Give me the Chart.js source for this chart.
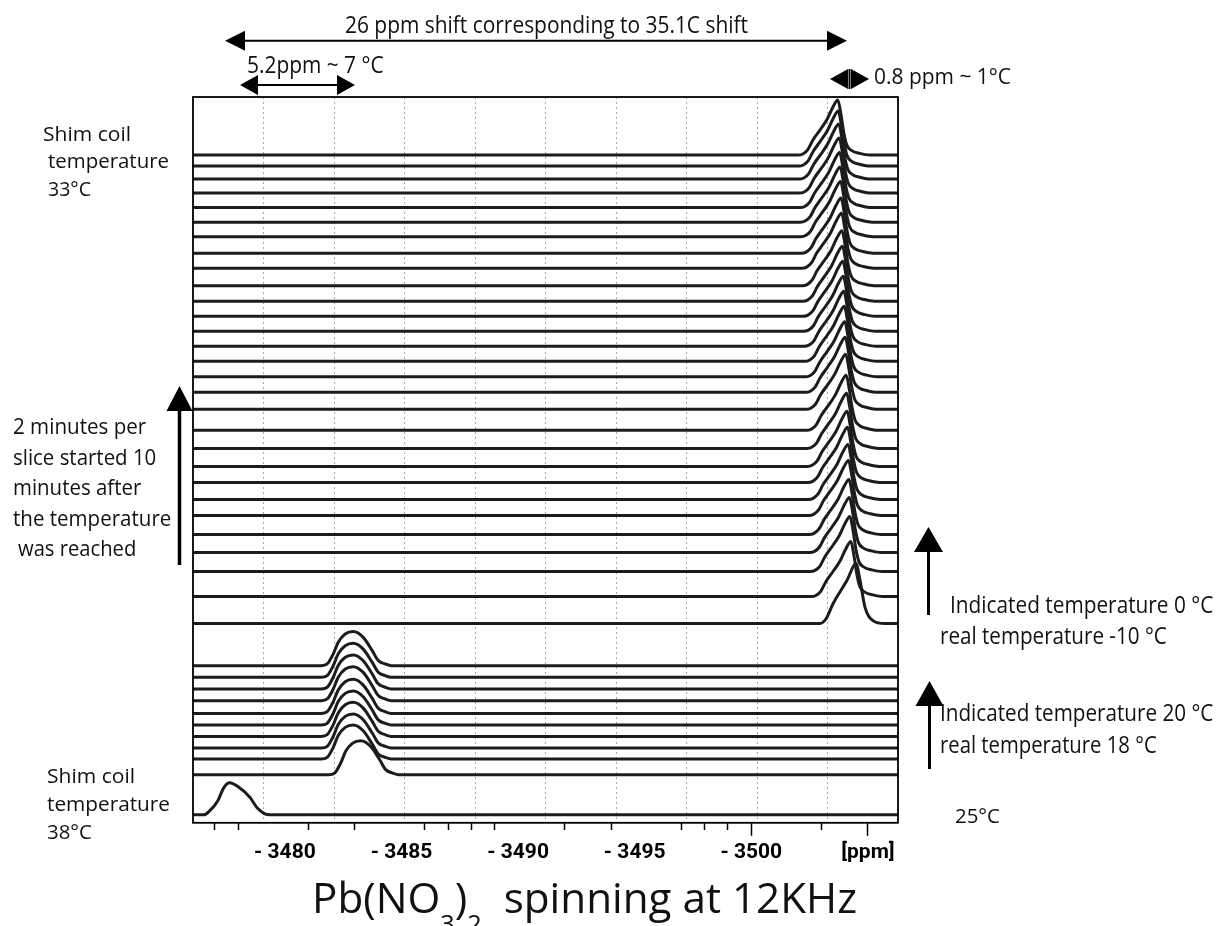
<!DOCTYPE html>
<html><head><meta charset="utf-8">
<script src="https://cdn.jsdelivr.net/npm/chart.js@4.4.1/dist/chart.umd.min.js"></script>
<style>
html,body{margin:0;padding:0;background:#fff;}
#wrap{position:relative;width:1219px;height:926px;overflow:hidden;background:#fff;}
#c{position:absolute;left:0;top:0;}
.n{position:absolute;white-space:nowrap;font-family:"Open Sans",sans-serif;color:#111;line-height:1;transform-origin:0 0;}
.sub{font-size:0.6em;position:relative;top:0.8em;}
</style></head>
<body><div id="wrap"><canvas id="c" width="1219" height="926"></canvas></div>
<script>
// ---------- axis (chemical shift, ppm) ----------
const ppmLeft = -3476.06;   // left edge of the plot
const ppmRight = -3506.29;  // right edge of the plot
const labelTicks = [-3480, -3485, -3490, -3495, -3500, -3505];
const tickLabels = ['- 3480', '- 3485', '- 3490', '- 3495', '- 3500', '[ppm]'];
const minorTicks = [-3477, -3478, -3481, -3483, -3486, -3487, -3488, -3489, -3492, -3494, -3497, -3498, -3499, -3500, -3503, -3505];
const longTicks = [-3500, -3505];
const gridLines = [-3479.10, -3482.12, -3485.15, -3488.17, -3491.19, -3494.22, -3497.24, -3500.26, -3503.28];

// ---------- slices ----------
// indicated 0 °C / real -10 °C block (top slice first)
const coldOffsets = [667, 656, 643, 629, 614.5, 600, 585.5, 569, 554, 536.5, 521, 506, 491, 476, 461, 445.5, 430, 413, 392, 374, 356, 340, 323, 307, 288, 270, 251, 226, 199];
const coldPeaks = [-3503.71, -3503.73, -3503.75, -3503.77, -3503.79, -3503.81, -3503.83, -3503.85, -3503.87, -3503.89, -3503.91, -3503.93, -3503.95, -3503.97, -3503.99, -3504.01, -3504.03, -3504.05, -3504.07, -3504.09, -3504.11, -3504.13, -3504.15, -3504.17, -3504.19, -3504.21, -3504.23, -3504.27, -3504.49];
const coldHeights = [55, 55, 55, 55, 55, 55, 55, 55, 55, 55, 55, 55, 55, 55, 55, 55, 55, 55, 55, 55, 55, 55, 55, 55, 55, 55, 55, 55, 60];
// indicated 20 °C / real 18 °C block (top slice first)
const warmOffsets = [157, 145.3, 133.7, 122, 109.3, 97.7, 86.3, 74.7, 63.7, 48];
const warmPeaks = [-3482.93, -3482.93, -3482.93, -3482.93, -3482.93, -3482.93, -3482.93, -3482.93, -3482.93, -3483.25];
const warmHeights = [34, 34, 34, 34, 34, 34, 34, 34, 34, 34];
// 25 °C slice
const roomOffset = 8;
const roomPeak = -3477.64;
const roomHeight = 32;

// peak profiles: [distance to the right of the maximum (ppm), fraction of height]
const shapeCold = [[-1.715,0],[-1.50,0.02],[-1.286,0.10],[-1.072,0.27],[-0.772,0.45],[-0.472,0.64],[-0.214,0.87],[0,1],[0.129,0.75],[0.257,0.40],[0.386,0.18],[0.600,0.08],[0.943,0.03],[1.372,0]];
const shapeColdFirst = [[-1.544,0],[-1.286,0.08],[-0.986,0.33],[-0.386,0.72],[0,1],[0.172,0.72],[0.386,0.27],[0.729,0.05],[1.244,0]];
const shapeWarm = [[-1.372,0],[-1.115,0.05],[-0.858,0.34],[-0.643,0.69],[-0.343,0.93],[0,1],[0.429,0.83],[0.815,0.44],[1.072,0.15],[1.372,0.05],[1.630,0]];
const shapeRoom = [[-1.115,0],[-0.858,0.13],[-0.515,0.44],[-0.257,0.85],[0,1],[0.343,0.88],[0.858,0.55],[1.158,0.23],[1.50,0.03],[1.715,0]];

function slice(offset, peak, height, shape) {
  const pts = [{x: ppmLeft, y: offset}];
  shape.forEach(([d, f]) => pts.push({x: peak - d, y: offset + height * f}));
  pts.push({x: ppmRight, y: offset});
  return pts;
}
const datasets = [];
coldOffsets.forEach((o, i) => datasets.push({data: slice(o, coldPeaks[i], coldHeights[i], i === coldOffsets.length - 1 ? shapeColdFirst : shapeCold)}));
warmOffsets.forEach((o, i) => datasets.push({data: slice(o, warmPeaks[i], warmHeights[i], shapeWarm)}));
datasets.push({data: slice(roomOffset, roomPeak, roomHeight, shapeRoom)});
datasets.forEach(d => { d.xAxisID = 'x'; d.yAxisID = 'y'; });

// ---------- decorations ----------
function hArrow(ctx, x1, x2, y, hl, hh, lw) {
  ctx.lineWidth = lw;
  ctx.beginPath(); ctx.moveTo(x1 + hl - 1, y); ctx.lineTo(x2 - hl + 1, y); ctx.stroke();
  ctx.beginPath(); ctx.moveTo(x1, y); ctx.lineTo(x1 + hl, y - hh); ctx.lineTo(x1 + hl, y + hh); ctx.closePath(); ctx.fill();
  ctx.beginPath(); ctx.moveTo(x2, y); ctx.lineTo(x2 - hl, y - hh); ctx.lineTo(x2 - hl, y + hh); ctx.closePath(); ctx.fill();
}
function vArrow(ctx, x, yb, yt, hl, hw, lw) {
  ctx.lineWidth = lw;
  ctx.beginPath(); ctx.moveTo(x, yb); ctx.lineTo(x, yt + hl - 1); ctx.stroke();
  ctx.beginPath(); ctx.moveTo(x, yt); ctx.lineTo(x - hw, yt + hl); ctx.lineTo(x + hw, yt + hl); ctx.closePath(); ctx.fill();
}
const decor = {
  id: 'decor',
  afterDraw(chart) {
    const ctx = chart.ctx, a = chart.chartArea;
    ctx.save();
    ctx.strokeStyle = '#000'; ctx.fillStyle = '#000';
    ctx.lineWidth = 1.8;
    ctx.strokeRect(a.left, a.top, a.right - a.left, a.bottom - a.top);
    hArrow(ctx, 225, 847, 40.7, 20, 10, 2);
    hArrow(ctx, 240, 355, 85, 18, 10, 2);
    // 0.8 ppm marker
    ctx.beginPath(); ctx.moveTo(830, 79); ctx.lineTo(848, 69); ctx.lineTo(848, 89); ctx.closePath(); ctx.fill();
    ctx.beginPath(); ctx.moveTo(869, 79); ctx.lineTo(851, 69); ctx.lineTo(851, 89); ctx.closePath(); ctx.fill();
    ctx.lineWidth = 2; ctx.beginPath(); ctx.moveTo(849.5, 69); ctx.lineTo(849.5, 89); ctx.stroke();
    vArrow(ctx, 179.5, 565, 386, 25, 13, 3.5);
    vArrow(ctx, 928.5, 615, 527, 25, 14.5, 3);
    vArrow(ctx, 929.5, 769, 681, 25, 14, 3);
    ctx.restore();
  }
};

const axisCommon = {type: 'linear', position: 'bottom', min: ppmRight, max: ppmLeft, reverse: true};
new Chart(document.getElementById('c'), {
  type: 'line',
  data: {datasets},
  options: {
    responsive: false, animation: false, devicePixelRatio: 1,
    layout: {padding: {left: 193, right: 321, top: 97, bottom: 57}},
    plugins: {legend: {display: false}, tooltip: {enabled: false}},
    elements: {point: {radius: 0}, line: {borderWidth: 3, borderColor: '#1c1c1c', cubicInterpolationMode: 'monotone', fill: false}},
    scales: {
      xg: Object.assign({}, axisCommon, {
        weight: 0,
        afterBuildTicks: s => { s.ticks = gridLines.map(v => ({value: v})); },
        ticks: {display: false},
        grid: {display: true, drawTicks: false, color: '#a8a8a8', lineWidth: 1},
        border: {display: false, dash: [2, 3]}
      }),
      xt: Object.assign({}, axisCommon, {
        weight: 1,
        afterBuildTicks: s => { s.ticks = minorTicks.map(v => ({value: v})); },
        ticks: {display: false},
        grid: {display: true, drawOnChartArea: false, drawTicks: true, tickLength: 13, tickColor: '#000', tickWidth: 1.5,
               tickBorderDash: c => (c.tick && longTicks.includes(c.tick.value)) ? [] : [7, 40]},
        border: {display: false}
      }),
      x: Object.assign({}, axisCommon, {
        weight: 2,
        afterBuildTicks: s => { s.ticks = labelTicks.map(v => ({value: v})); },
        ticks: {autoSkip: false, maxRotation: 0, padding: 4, color: '#000',
                font: {family: 'Roboto', weight: 'bold', size: 21},
                callback: (v, i) => tickLabels[i]},
        grid: {display: false, drawTicks: false},
        border: {display: false}
      }),
      y: {type: 'linear', min: 0, max: 725, display: false}
    }
  },
  plugins: [decor]
});

// ---------- text annotations ----------
const noteLayout = [
  ['26 ppm shift corresponding to 35.1C shift', 345, 33.3, 23, 403],
  ['5.2ppm ~ 7 °C', 246.7, 73.3, 23, 136.6],
  ['0.8 ppm ~ 1°C', 874, 85, 21, 137],
  ['Shim coil', 42.7, 141.7, 20, 88],
  ['temperature', 48.3, 168.3, 20, 121],
  ['33°C', 48.3, 196.7, 20, 43],
  ['2 minutes per', 13.3, 435, 21, 133.3],
  ['slice started 10', 13.3, 465.3, 21, 143.3],
  ['minutes after', 13.3, 495.5, 21, 128.3],
  ['the temperature', 13.3, 526.3, 21, 158.3],
  ['was reached', 18.3, 556.7, 21, 118.3],
  ['Indicated temperature 0 °C', 950, 613.3, 24, 263.3],
  ['real temperature -10 °C', 940, 644, 24, 226.7],
  ['Indicated temperature 20 °C', 940, 721.7, 24, 273.3],
  ['real temperature 18 °C', 940, 753.3, 24, 216.7],
  ['Shim coil', 47, 783.7, 20, 88],
  ['temperature', 47, 811.7, 20, 123],
  ['38°C', 47, 839.5, 20, 45],
  ['25°C', 955, 823.5, 20, 45],
  ['Pb(NO<span class="sub">3</span>)<span class="sub">2</span>&nbsp; spinning at 12KHz', 311.7, 913.3, 42, 545]
];
const wrap = document.getElementById('wrap');
const noteEls = noteLayout.map(([html, x, base, fs, w]) => {
  const d = document.createElement('div');
  d.className = 'n';
  d.innerHTML = html;
  d.style.left = x + 'px';
  d.style.top = (base - 0.888 * fs) + 'px';
  d.style.fontSize = fs + 'px';
  wrap.appendChild(d);
  return [d, w];
});
function fitNotes() {
  noteEls.forEach(([d, w]) => {
    d.style.transform = 'none';
    const nat = d.getBoundingClientRect().width;
    if (nat > 0) d.style.transform = 'scaleX(' + (w / nat) + ')';
  });
}
fitNotes();
if (document.fonts && document.fonts.ready) document.fonts.ready.then(fitNotes);
</script></body></html>
